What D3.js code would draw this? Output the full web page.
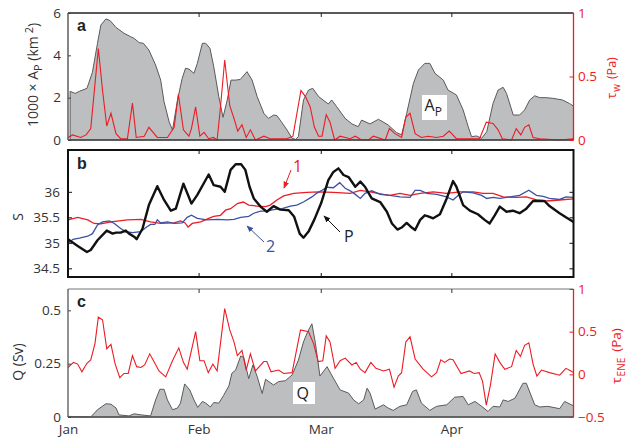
<!DOCTYPE html>
<html><head><meta charset="utf-8">
<script src="https://cdn.jsdelivr.net/npm/d3@7"></script>
<style>
body{margin:0;background:#fff}
svg text{font-family:"Open Sans","Noto Sans",sans-serif}
</style></head>
<body><svg id="chart" width="634" height="441"></svg>
<script>
// ---- data (day offset from 1 Jan, value) ----
const monthLabels = ["Jan","Feb","Mar","Apr"];
const monthDays = [0,31,60,91];
const apTicks = [0,2,4,6];
const twTicks = [0,0.5,1];
const sTicks = [34.5,35,35.5,36];
const qTicks = [0,0.25,0.5];
const teneTicks = [-0.5,0,0.5,1];

const areaAP = [[0.5,2.3],[1.7,2.2],[2.7,2.3],[4.5,2.44],[5.8,3.2],[7,4.57],[7.8,5.43],[9,5.72],[10,5.64],[11.4,5.32],[13.3,5.04],[14.9,4.88],[15.7,4.8],[16.9,4.6],[17.9,4.57],[19.2,4.25],[20.8,3.54],[22,2.83],[22.8,1.81],[24,0.86],[24.8,0.47],[26,1.89],[27.1,2.91],[27.9,3.39],[28.7,3.35],[29.9,3.15],[30.7,3.62],[31.9,4.57],[32.7,4.57],[33.7,4.33],[34.6,3.46],[35.8,2.05],[36.8,1.07],[37.8,1.89],[38.7,2.83],[39.8,2.83],[40.9,2.86],[42.5,3.23],[43.7,2.83],[44.9,2.05],[46.5,1.26],[47.6,1.02],[48.8,1.18],[49.6,1.15],[50.8,0.82],[52,0.47],[53.2,0.08],[54,0.03],[54.7,0.16],[55.9,1.89],[57.1,2.36],[58.1,2.44],[59.5,2.05],[61.8,1.7],[62.6,1.89],[63.8,1.57],[65.8,1.02],[67.4,0.76],[68.9,0.63],[69.7,0.94],[71.7,0.76],[73.7,0.98],[76,0.71],[78,0.35],[79.2,0.24],[80.4,1.26],[82,2.68],[83.2,3.31],[84.7,3.62],[85.9,3.62],[87.1,3.15],[89.1,2.83],[90.2,2.36],[92.2,2.13],[93.8,1.42],[95,0.63],[95.8,0.16],[97,0.19],[98.2,0.08],[99.4,0.39],[100.9,1.73],[102.1,2.36],[103.3,2.49],[104.1,2.2],[105.7,1.18],[107.2,1.18],[108.4,1.42],[109.6,1.89],[110.8,2.09],[112,2.0],[113.5,2.0],[115.1,1.97],[117.4,1.89],[119,1.73],[120,1.6]];

const tauW = [[0,0.02],[1.1,0.04],[3,0.02],[4.3,0.04],[5.4,0.09],[7.2,0.72],[8.2,0.39],[9.2,0.11],[10.2,0.21],[11.4,0.05],[12.5,0.01],[14.1,0.01],[15.3,0.29],[16.2,0.02],[18.1,0.03],[19.2,0.1],[21.2,0.02],[23.6,0.02],[25.2,0.1],[26.2,0.36],[27.4,0.08],[28.7,0.03],[29.3,0.09],[30.3,0.26],[31.3,0.03],[32.3,0.06],[33.4,0.01],[34.5,0.02],[35.4,0.0],[36.2,0.26],[37.2,0.63],[38.4,0.27],[39.4,0.17],[40.3,0.07],[41.3,0.12],[42.3,0.02],[43.3,0.08],[44.5,0.0],[46.5,0.03],[48,0.01],[52,0.01],[53.4,0.03],[55.3,0.39],[56.4,0.34],[57.5,0.26],[58.5,0.1],[59.5,0.03],[60.3,0.03],[61.3,0.2],[62.2,0.14],[63.3,0.0],[64.6,0.03],[67,0.01],[68.2,0.03],[69.7,0],[71.3,0],[72.5,0.03],[75.3,0],[76.3,0.09],[77.6,0.05],[79.2,0.02],[80.2,0.18],[81.2,0.21],[82.4,0.05],[83.9,0.02],[85.5,0.03],[87.5,0.02],[89.1,0.03],[90.5,0.07],[92.2,0.01],[94.6,0.01],[97.7,0.01],[99.3,0.14],[100.9,0.13],[102.1,0.08],[103.1,0.01],[105.3,0],[106.4,0.09],[107.5,0.04],[108.4,0.1],[109.4,0.12],[110.4,0.02],[112,0.01],[116.7,0],[120,0.01]];

const salinityP = [[0,35.07],[2.3,34.94],[4.5,34.82],[5.4,34.86],[7,35.05],[9.2,35.24],[10.6,35.18],[11.4,35.2],[12.5,35.2],[13.7,35.24],[14.5,35.18],[15.7,35.12],[16.3,35.07],[17.7,35.28],[19.2,35.74],[21.2,36.11],[22.8,35.84],[24.4,35.63],[25.6,35.67],[27.4,36.16],[29.3,35.77],[30.7,35.94],[33.4,36.34],[34.6,36.13],[36.2,36.1],[37.2,36.0],[38.6,36.43],[39.8,36.54],[41.1,36.54],[42.1,36.43],[43.1,36.1],[44.1,35.87],[45.7,35.71],[47.2,35.61],[48.8,35.72],[50.4,35.65],[52.4,35.64],[53.7,35.51],[55,35.18],[55.9,35.1],[57.1,35.22],[58.5,35.46],[60.1,35.78],[61.8,36.23],[63,36.39],[64.2,36.46],[65.4,36.33],[66.6,36.29],[68.2,36.1],[69.4,36.2],[70.5,36.1],[72.1,35.87],[74.1,35.8],[75.7,35.61],[76.9,35.38],[78.2,35.26],[79.2,35.3],[80.4,35.39],[81.6,35.3],[82.4,35.25],[83.6,35.45],[84.7,35.54],[85.5,35.52],[86.7,35.48],[88.3,35.56],[89.9,35.87],[91.4,36.21],[92.2,36.1],[93.8,35.74],[95.4,35.63],[97.3,35.56],[98.9,35.45],[100.1,35.38],[101.3,35.54],[102.5,35.71],[104.1,35.61],[105.6,35.63],[107.2,35.58],[108.8,35.67],[110.4,35.82],[113.1,35.82],[114.3,35.72],[116.7,35.58],[118.2,35.5],[120,35.41]];

const salinity1 = [[0,35.45],[2.3,35.5],[4.7,35.45],[6.2,35.38],[7.8,35.37],[10.2,35.41],[14.1,35.45],[17.3,35.46],[19.6,35.41],[22,35.38],[25.2,35.39],[26.7,35.43],[27.8,35.39],[28.5,35.31],[29.5,35.38],[31.5,35.41],[33.4,35.48],[34.6,35.52],[36.2,35.54],[37.4,35.64],[38.6,35.67],[40.2,35.77],[41.6,35.8],[42.9,35.74],[44.9,35.72],[46.9,35.71],[48,35.74],[49.6,35.84],[51.2,35.92],[53.6,35.97],[56.7,35.99],[59.5,36.0],[63,35.99],[67,35.97],[69.4,36.03],[71.7,36.0],[74.9,35.95],[76.4,35.93],[78.8,35.97],[81.2,35.93],[83.6,35.97],[86.7,36.0],[89.9,35.97],[93,36.0],[96.2,36.0],[98.5,35.97],[100.9,35.97],[103.3,35.9],[106.4,35.89],[108.8,35.9],[111.2,35.84],[113.5,35.82],[116.7,35.84],[120,35.86]];

const salinity2 = [[0,34.99],[1.2,35.07],[2.7,35.09],[4.7,35.13],[5.8,35.18],[7,35.35],[8.2,35.41],[9.8,35.43],[11,35.38],[12.5,35.28],[13.7,35.22],[15.3,35.2],[17.3,35.22],[18.5,35.3],[19.6,35.36],[20.6,35.36],[21.2,35.45],[22,35.39],[23.6,35.41],[25.2,35.38],[27.1,35.39],[28.3,35.5],[29.3,35.54],[30.7,35.48],[33,35.45],[35.4,35.46],[37.8,35.45],[39.4,35.46],[41,35.5],[42.9,35.52],[44.1,35.58],[45.7,35.62],[47.2,35.62],[48.8,35.65],[50.8,35.67],[52.8,35.72],[54.3,35.74],[55.9,35.8],[57.9,35.9],[59,35.97],[60.3,36.03],[61.5,36.09],[63,36.08],[64.5,36.18],[65.8,36.07],[67,36.02],[68.2,35.95],[69.4,35.87],[70.5,35.97],[72.1,36.02],[74.1,35.95],[76.4,35.93],[78.8,35.9],[81.2,35.89],[82.4,36.03],[83.6,36.03],[85.2,35.97],[87.5,35.95],[89.9,35.9],[91.4,35.84],[92.6,35.93],[93.8,36.0],[96.2,35.98],[98.2,35.93],[99.4,35.87],[100.9,35.89],[102.5,35.87],[104.9,35.9],[107.2,35.93],[109.4,36.03],[111.2,35.93],[112.8,35.91],[114.3,35.87],[116.7,35.85],[118.2,35.9],[120,35.89]];

const areaQ = [[0,0.003],[5.4,0],[7,0.034],[9,0.062],[10.2,0.06],[11.4,0.042],[12.1,0.01],[14.5,0.005],[15.7,0.015],[17.3,0.01],[19.6,0.005],[20.8,0.08],[21.8,0.13],[22.8,0.13],[23.6,0.08],[24.8,0.034],[26,0.042],[26.7,0.065],[27.7,0.155],[28.9,0.127],[29.9,0.08],[30.8,0.045],[31.9,0.073],[32.7,0.065],[33.8,0.047],[34.6,0.068],[35.8,0.065],[36.9,0.1],[38.2,0.146],[38.9,0.205],[39.8,0.22],[41,0.286],[41.7,0.28],[42.9,0.18],[43.9,0.244],[44.9,0.19],[46.1,0.11],[46.9,0.177],[48.8,0.15],[50,0.166],[51.6,0.17],[53.2,0.197],[54.7,0.267],[55.9,0.352],[56.9,0.4],[57.9,0.437],[58.7,0.35],[59.8,0.192],[61.5,0.236],[63,0.182],[64.6,0.127],[66.6,0.112],[67.8,0.08],[69,0.062],[70.2,0.08],[71,0.135],[71.7,0.112],[72.9,0.037],[74.9,0.057],[76,0.042],[77.2,0.031],[78.8,0.05],[80.4,0.057],[81.8,0.12],[82.7,0.127],[83.9,0.065],[85.9,0.031],[87.5,0.05],[89.9,0.057],[91.8,0.093],[93.8,0.096],[95,0.057],[96.6,0.073],[98.2,0.05],[99.7,0.026],[100.9,0.05],[102.5,0.047],[103.3,0.08],[104.5,0.073],[106.1,0.088],[108,0.158],[108.8,0.158],[110.8,0.057],[112,0.047],[113.9,0.05],[116.7,0.039],[117.9,0.073],[120,0.052]];

const tauENE = [[0,0.08],[1.3,0.14],[2.3,0.12],[3.3,0.03],[4.5,0.13],[5.4,0.17],[6.4,0.36],[7.2,0.67],[8.2,0.64],[9.2,0.3],[10.2,0.35],[11.2,0.12],[12.3,-0.04],[13.3,0.01],[14.3,0.01],[15.3,0.22],[16.3,0.09],[17.3,0.08],[18.2,0.11],[19.4,0.24],[20.4,0.15],[21.6,0.04],[23.2,-0.03],[24.8,0.16],[26.3,0.31],[27.4,0.14],[28.3,0.06],[30.3,0.5],[31.3,0.16],[32.3,0.16],[33.3,0.02],[34.4,0.12],[35.4,0.04],[37.2,0.77],[38.4,0.52],[39.4,0.38],[40.2,0.22],[41.3,0.28],[42.3,0.05],[43.3,0.24],[44.5,0.04],[46.5,0.15],[47.2,0.15],[48.2,0.03],[50,0.05],[51.2,0.01],[53.2,0.02],[55.2,0.52],[57.1,0.5],[58.3,0.36],[59.4,0.15],[60.5,0.16],[61.3,0.45],[62.2,0.38],[63.4,0.07],[64.6,0.16],[65.8,0.19],[67.4,0.11],[68.4,0.14],[69.4,0.06],[70.5,0.02],[71.9,0.14],[73.1,0.07],[74.9,0.04],[76.3,0.06],[77.4,-0.15],[78.4,-0.02],[79.2,0.02],[80.2,0.38],[81.2,0.44],[82.4,0.18],[84.3,0.06],[86.3,-0.03],[87.5,0.02],[88.5,0.17],[89.4,0.14],[90.6,0.18],[91.4,0.17],[93.3,0.01],[95.3,0.04],[96.4,0.01],[97.6,0.02],[98.4,-0.08],[99.3,-0.36],[100.3,-0.12],[101.4,0.24],[102.5,0.14],[103.7,0.06],[105.3,0.09],[106.4,0.28],[107.4,0.21],[108.4,0.34],[109.4,0.37],[110.4,0.12],[111.3,-0.02],[112.4,0.05],[114.3,0.02],[116.7,-0.01],[118.2,0.07],[119.4,0.04],[120,0.02]];

// ---- setup ----
const RED = "#ec1c24", BLUE = "#3a52a3", GRAY = "#bdbec0";
const FS = "13.5px";
const svg = d3.select("#chart");
const t0 = Date.UTC(2008,0,1);
const dayDate = d => new Date(t0 + d*864e5);
const x = d3.scaleUtc().domain([dayDate(0), dayDate(120)]).range([68, 573.5]);
const L = 68, R = 573.5;

const yA = d3.scaleLinear([0,6],[140,13]);
const yTw = d3.scaleLinear([0,1],[140,13]);
const yS = d3.scaleLinear([34.33,36.82],[277,150]);
const yQ = d3.scaleLinear([0,0.6],[417,289]);
const yTe = d3.scaleLinear([-0.5,1],[417,289]);

const monthDates = monthDays.map(dayDate);

function styleAxis(g, color, textColor){
  g.select(".domain").remove();
  g.selectAll(".tick line").attr("stroke", color);
  g.selectAll(".tick text").attr("fill", textColor).style("font-size",FS).style("font-family",'"Open Sans",sans-serif');
}
function fmtNum(d){ return d<0 ? "\u2212"+Math.abs(d) : String(d); }

// ---- panel a ----
const gA = svg.append("g");
gA.append("path").datum(areaAP)
  .attr("d", d3.area().x(d=>x(dayDate(d[0]))).y0(yA(0)).y1(d=>yA(d[1])))
  .attr("fill", GRAY).attr("stroke", "#5a5a5a").attr("stroke-width", 1);
gA.append("path").datum(tauW)
  .attr("d", d3.line().x(d=>x(dayDate(d[0]))).y(d=>yTw(d[1])))
  .attr("fill","none").attr("stroke",RED).attr("stroke-width",1.1);
gA.append("line").attr("x1",L).attr("x2",R).attr("y1",13).attr("y2",13).attr("stroke","#222").attr("stroke-width",1.3);
gA.append("line").attr("x1",L).attr("x2",R).attr("y1",140).attr("y2",140).attr("stroke","#444").attr("stroke-width",1.6);
gA.append("line").attr("x1",L).attr("x2",L).attr("y1",13).attr("y2",140).attr("stroke","#444").attr("stroke-width",1.3);
gA.append("line").attr("x1",R).attr("x2",R).attr("y1",13).attr("y2",140).attr("stroke",RED).attr("stroke-width",1.3);
gA.append("g").attr("transform",`translate(${L},0)`)
  .call(d3.axisLeft(yA).tickValues(apTicks).tickSize(-3).tickPadding(7).tickFormat(d3.format("d")))
  .call(g=>styleAxis(g,"#444","#333"));
gA.append("g").attr("transform",`translate(${R},0)`)
  .call(d3.axisRight(yTw).tickValues(twTicks).tickSize(-4).tickPadding(4.5).tickFormat(fmtNum))
  .call(g=>styleAxis(g,RED,RED));
gA.append("g").attr("transform","translate(0,13)")
  .call(d3.axisTop(x).tickValues(monthDates.slice(1)).tickSize(-4).tickFormat(""))
  .call(g=>styleAxis(g,"#222","#222"));

// ---- panel b ----
const gB = svg.append("g");
const lineS = d3.line().x(d=>x(dayDate(d[0]))).y(d=>yS(d[1]));
gB.append("path").datum(salinity1).attr("d",lineS).attr("fill","none").attr("stroke",RED).attr("stroke-width",1.3);
gB.append("path").datum(salinity2).attr("d",lineS).attr("fill","none").attr("stroke",BLUE).attr("stroke-width",1.3);
gB.append("path").datum(salinityP).attr("d",lineS).attr("fill","none").attr("stroke","#111").attr("stroke-width",2.4).attr("stroke-linejoin","round");
gB.append("rect").attr("x",L).attr("y",150).attr("width",R-L).attr("height",127)
  .attr("fill","none").attr("stroke","#111").attr("stroke-width",2);
gB.append("g").attr("transform",`translate(${L},0)`)
  .call(d3.axisLeft(yS).tickValues(sTicks).tickSize(-4).tickPadding(8).tickFormat(d=>String(d)))
  .call(g=>styleAxis(g,"#111","#333"));
gB.append("g").attr("transform",`translate(${R},0)`)
  .call(d3.axisRight(yS).tickValues(sTicks).tickSize(-4).tickFormat(""))
  .call(g=>styleAxis(g,"#111","#111"));
gB.append("g").attr("transform","translate(0,150)")
  .call(d3.axisTop(x).tickValues(monthDates.slice(1)).tickSize(-4).tickFormat(""))
  .call(g=>styleAxis(g,"#111","#111"));
gB.append("g").attr("transform","translate(0,277)")
  .call(d3.axisBottom(x).tickValues(monthDates.slice(1)).tickSize(-4).tickFormat(""))
  .call(g=>styleAxis(g,"#111","#111"));

const defs = svg.append("defs");
function arrow(id,color){
  defs.append("marker").attr("id",id).attr("viewBox","0 0 10 10").attr("refX",9).attr("refY",5)
    .attr("markerWidth",7).attr("markerHeight",7).attr("orient","auto")
    .append("path").attr("d","M0,1 L10,5 L0,9 Z").attr("fill",color);
}
arrow("arR",RED); arrow("arB",BLUE); arrow("arK","#111");
gB.append("line").attr("x1",291).attr("y1",170).attr("x2",284).attr("y2",188).attr("stroke",RED).attr("stroke-width",1).attr("marker-end","url(#arR)");
gB.append("text").attr("x",293).attr("y",172).attr("fill",RED).style("font-size","16px").text("1");
gB.append("line").attr("x1",264).attr("y1",242).attr("x2",247).attr("y2",226).attr("stroke",BLUE).attr("stroke-width",1).attr("marker-end","url(#arB)");
gB.append("text").attr("x",266).attr("y",252).attr("fill",BLUE).style("font-size","16px").text("2");
gB.append("line").attr("x1",340).attr("y1",232).attr("x2",324).attr("y2",216).attr("stroke","#111").attr("stroke-width",1).attr("marker-end","url(#arK)");
gB.append("text").attr("x",344).attr("y",242).attr("fill","#222").style("font-size","16px").text("P");

// ---- panel c ----
const gC = svg.append("g");
gC.append("path").datum(areaQ)
  .attr("d", d3.area().x(d=>x(dayDate(d[0]))).y0(yQ(0)).y1(d=>yQ(d[1])))
  .attr("fill", GRAY).attr("stroke", "#5a5a5a").attr("stroke-width", 1);
gC.append("path").datum(tauENE)
  .attr("d", d3.line().x(d=>x(dayDate(d[0]))).y(d=>yTe(d[1])))
  .attr("fill","none").attr("stroke",RED).attr("stroke-width",1.1);
gC.append("line").attr("x1",L).attr("x2",R).attr("y1",289).attr("y2",289).attr("stroke","#777").attr("stroke-width",1.2);
gC.append("line").attr("x1",L).attr("x2",R).attr("y1",417).attr("y2",417).attr("stroke","#555").attr("stroke-width",1.4);
gC.append("line").attr("x1",L).attr("x2",L).attr("y1",289).attr("y2",417).attr("stroke","#555").attr("stroke-width",1.3);
gC.append("line").attr("x1",R).attr("x2",R).attr("y1",289).attr("y2",417).attr("stroke",RED).attr("stroke-width",1.3);
gC.append("g").attr("transform",`translate(${L},0)`)
  .call(d3.axisLeft(yQ).tickValues(qTicks).tickSize(-3).tickPadding(7).tickFormat(d=>String(d)))
  .call(g=>styleAxis(g,"#444","#333"));
gC.append("g").attr("transform",`translate(${R},0)`)
  .call(d3.axisRight(yTe).tickValues(teneTicks).tickSize(-4).tickPadding(4.5).tickFormat(fmtNum))
  .call(g=>styleAxis(g,RED,RED));
gC.append("g").attr("transform","translate(0,289)")
  .call(d3.axisTop(x).tickValues(monthDates.slice(1)).tickSize(-4).tickFormat(""))
  .call(g=>styleAxis(g,"#333","#333"));
gC.append("g").attr("transform","translate(0,417)")
  .call(d3.axisBottom(x).tickValues(monthDates).tickSize(0).tickPadding(7).tickFormat((d,i)=>monthLabels[i]))
  .call(g=>styleAxis(g,"#333","#333"));

// ---- labels ----
function label(txt,xx,yy){
  svg.append("text").attr("x",xx).attr("y",yy).style("font-size","16px").style("font-weight","bold").attr("fill","#222").style("font-family","Arial, 'Liberation Sans', sans-serif").text(txt);
}
label("a",77,31); label("b",77,169); label("c",77,307);

svg.append("rect").attr("x",422).attr("y",95).attr("width",25).attr("height",25).attr("fill","#fff");
const tAP = svg.append("text").attr("x",424.5).attr("y",111).attr("fill","#222").style("font-size","16px");
tAP.append("tspan").text("A"); tAP.append("tspan").attr("dy",5).style("font-size","12px").text("P");
svg.append("rect").attr("x",293).attr("y",382).attr("width",22).attr("height",22).attr("fill","#fff");
svg.append("text").attr("x",296.5).attr("y",399).attr("fill","#222").style("font-size","16px").text("Q");

const ya = svg.append("text").attr("transform","translate(38,75) rotate(-90)").attr("text-anchor","middle").attr("fill","#333").style("font-size","14px");
ya.append("tspan").text("1000 \u00d7 A");
ya.append("tspan").attr("dy",4).style("font-size","11px").text("P");
ya.append("tspan").attr("dy",-4).text(" (km");
ya.append("tspan").attr("dy",-5).style("font-size","11px").text(" 2");
ya.append("tspan").attr("dy",5).text(")");

svg.append("text").attr("transform","translate(23,217) rotate(-90)").attr("text-anchor","middle").attr("fill","#333").style("font-size","14px").text("S");
svg.append("text").attr("transform","translate(23,362) rotate(-90)").attr("text-anchor","middle").attr("fill","#333").style("font-size","14px").text("Q (Sv)");

const yw = svg.append("text").attr("transform","translate(616,78) rotate(-90)").attr("text-anchor","middle").attr("fill",RED).style("font-size","12.5px");
yw.append("tspan").text("\u03c4");
yw.append("tspan").attr("dy",3.5).attr("dx",1).style("font-size","10px").text("w");
yw.append("tspan").attr("dy",-3.5).attr("dx",5).text("(Pa)");

const ye = svg.append("text").attr("transform","translate(621,356) rotate(-90)").attr("text-anchor","middle").attr("fill",RED).style("font-size","13.5px");
ye.append("tspan").text("\u03c4");
ye.append("tspan").attr("dy",3.5).attr("dx",1).style("font-size","10px").text("ENE");
ye.append("tspan").attr("dy",-3.5).attr("dx",6).text("(Pa)");
</script></body></html>
